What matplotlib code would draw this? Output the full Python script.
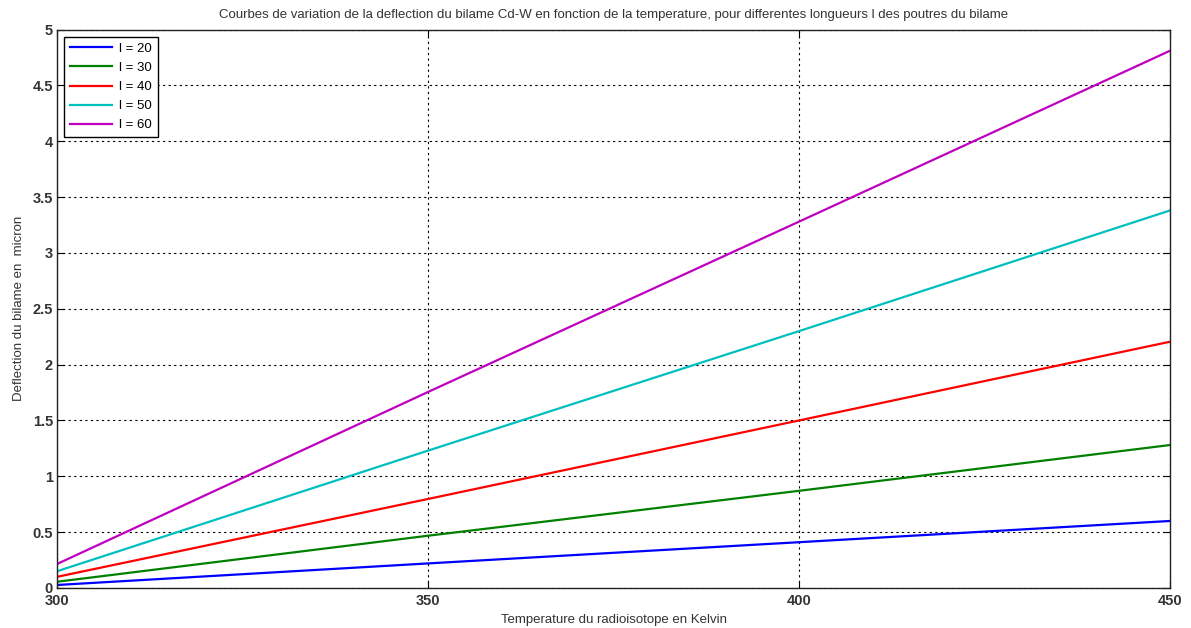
import matplotlib
matplotlib.use("Agg")
import matplotlib.pyplot as plt

# ===== DATA =====
temperature = [300, 350, 400, 450]
lengths = [20, 30, 40, 50, 60]
deflection = {
    20: [0.027, 0.22, 0.41, 0.60],
    30: [0.056, 0.468, 0.87, 1.28],
    40: [0.10, 0.797, 1.50, 2.205],
    50: [0.15, 1.23, 2.30, 3.38],
    60: [0.215, 1.755, 3.28, 4.81],
}
colors = ["#0000ff", "#008000", "#ff0000", "#00bfbf", "#bf00bf"]
y_ticks = [0, 0.5, 1, 1.5, 2, 2.5, 3, 3.5, 4, 4.5, 5]
y_labels = ["0", "0.5", "1", "1.5", "2", "2.5", "3", "3.5", "4", "4.5", "5"]

plt.rcParams["font.family"] = ["Liberation Sans", "DejaVu Sans"]

fig = plt.figure(figsize=(11.91, 6.28), dpi=100)
ax = fig.add_axes([0.0479, 0.0637, 0.9345, 0.8893])

for l, c in zip(lengths, colors):
    ax.plot(temperature, deflection[l], color=c, lw=1.6, label="l = %d" % l)

ax.set_xlim(300, 450)
ax.set_ylim(0, 5)
ax.set_xticks([300, 350, 400, 450])
ax.set_yticks(y_ticks)
ax.set_yticklabels(y_labels)
ax.tick_params(direction="in", top=True, right=True, length=5, labelsize=10.5,
               labelcolor="#333333", pad=3)
ax.tick_params(axis="x", pad=4)
for lab in ax.get_xticklabels() + ax.get_yticklabels():
    lab.set_fontweight("bold")
ax.grid(True, color="black", linestyle=(0, (2, 3)), linewidth=0.8)
for s in ax.spines.values():
    s.set_linewidth(1.0)
    s.set_color("#222222")

ax.set_title("Courbes de variation de la deflection du bilame Cd-W en fonction de la temperature, "
             "pour differentes longueurs l des poutres du bilame",
             fontsize=9.5, color="#333333", pad=8)
ax.set_xlabel("Temperature du radioisotope en Kelvin", fontsize=9.5, color="#333333", labelpad=5)
ax.set_ylabel("Deflection du bilame en  micron", fontsize=9.5, color="#333333", labelpad=5)

leg = ax.legend(loc="upper left", fancybox=False, framealpha=1, edgecolor="black",
                fontsize=9.5, handlelength=3.2, handletextpad=0.5, borderpad=0.45,
                labelspacing=0.52, borderaxespad=0.55)
leg.get_frame().set_linewidth(1.0)

fig.savefig("out.png", dpi=100)
